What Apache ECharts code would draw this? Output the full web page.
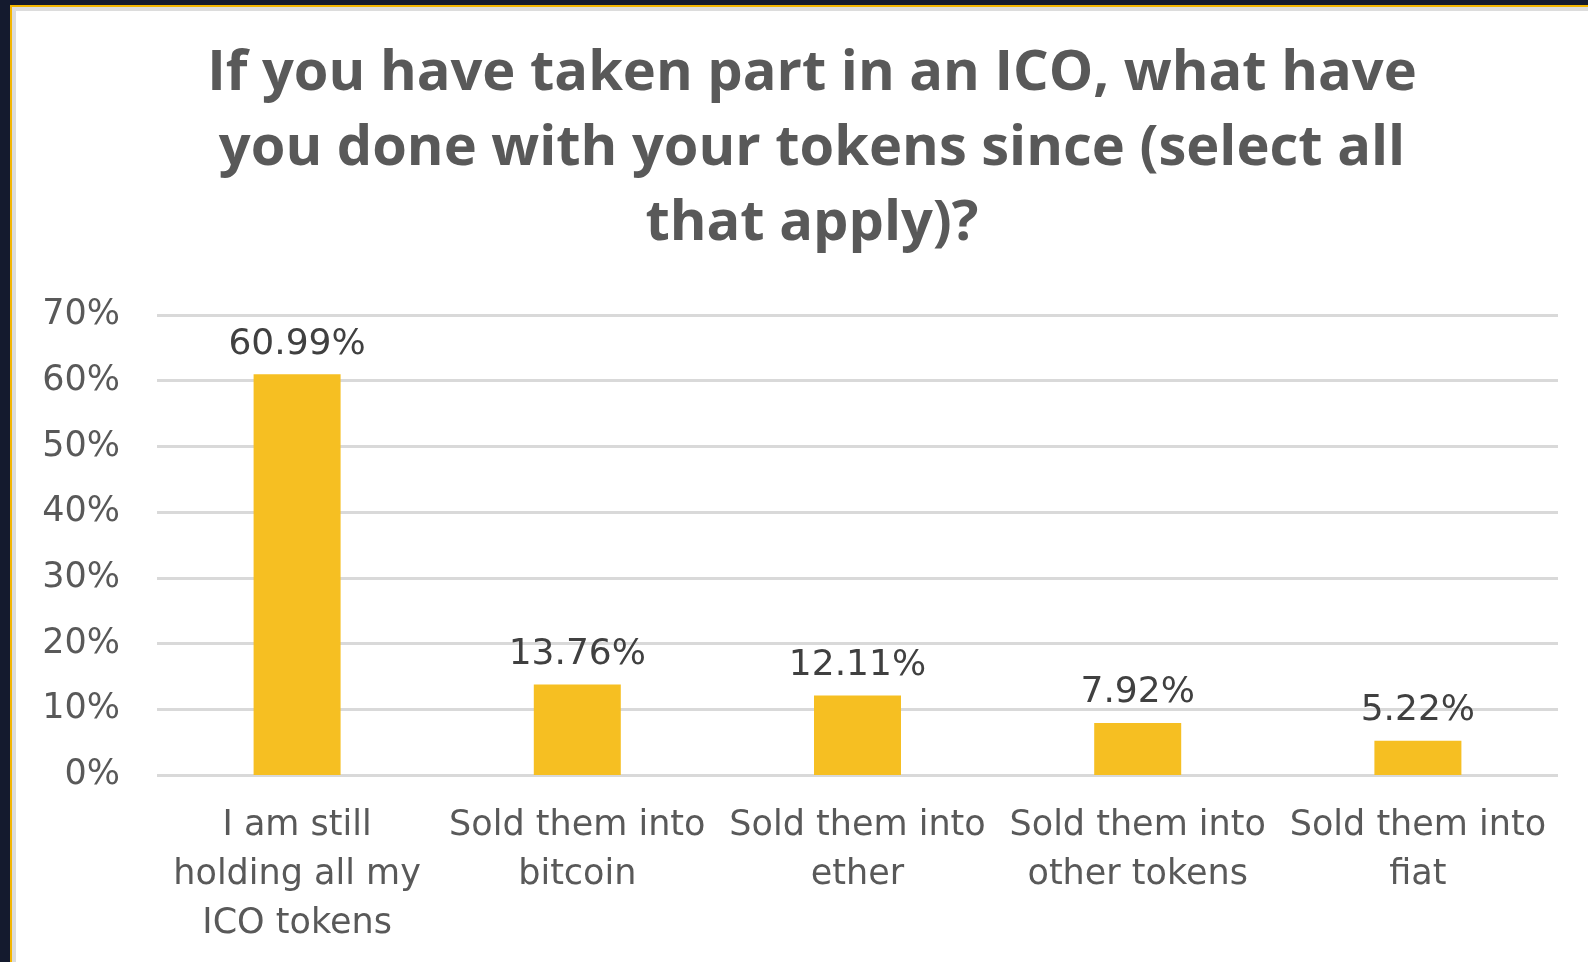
<!DOCTYPE html>
<html>
<head>
<meta charset="utf-8">
<script src="https://cdn.jsdelivr.net/npm/echarts@6/dist/echarts.min.js"></script>
<style>
  html, body { margin: 0; padding: 0; width: 1588px; height: 962px; background: #141a2e; overflow: hidden; }
  #panel { position: absolute; left: 10px; top: 5px; right: 0; bottom: 0; background: #ffffff;
           border-left: 2px solid #f3b500; border-top: 2px solid #f3b500;
           box-shadow: inset 4px 4px 0 #dcdcdc; }
  #chart { position: absolute; left: 0; top: 0; width: 1588px; height: 962px; }
</style>
</head>
<body>
<div id="panel"></div>
<div id="chart"></div>
<script>
const titleText = 'If you have taken part in an ICO, what have\nyou done with your tokens since (select all\nthat apply)?';
const categories = [
  'I am still\nholding all my\nICO tokens',
  'Sold them into\nbitcoin',
  'Sold them into\nether',
  'Sold them into\nother tokens',
  'Sold them into\nfiat'
];
const values = [60.99, 13.76, 12.11, 7.92, 5.22];
const yTicks = { min: 0, max: 70, interval: 10 };

const TITLE_FONT = 'Open Sans';
const FONT = 'DejaVu Sans';
const chart = echarts.init(document.getElementById('chart'), null, { renderer: 'canvas' });
chart.setOption({
  backgroundColor: 'transparent',
  animation: false,
  title: {
    text: titleText,
    left: 807,
    textAlign: 'center',
    top: 32,
    textStyle: { fontFamily: TITLE_FONT, fontWeight: 'bold', fontSize: 56, lineHeight: 75, color: '#595959' }
  },
  grid: { left: 157, right: 30, top: 315, bottom: 187, containLabel: false },
  xAxis: {
    type: 'category',
    data: categories,
    axisLine: { show: false },
    axisTick: { show: false },
    axisLabel: { margin: 26, fontFamily: FONT, fontSize: 35, lineHeight: 49, color: '#595959', interval: 0 }
  },
  yAxis: {
    type: 'value',
    min: yTicks.min, max: yTicks.max, interval: yTicks.interval,
    axisLine: { show: false },
    axisTick: { show: false },
    splitLine: { lineStyle: { color: '#d9d9d9', width: 3 } },
    axisLabel: { margin: 37, fontFamily: FONT, fontSize: 35, color: '#595959', formatter: '{value}%' }
  },
  series: [{
    type: 'bar',
    data: values,
    barWidth: 87,
    itemStyle: { color: '#f6bf22' },
    label: {
      show: true, position: 'top', distance: 12,
      fontFamily: FONT, fontSize: 36, color: '#404040',
      formatter: p => p.value.toFixed(2) + '%'
    }
  }]
});
</script>
</body>
</html>
